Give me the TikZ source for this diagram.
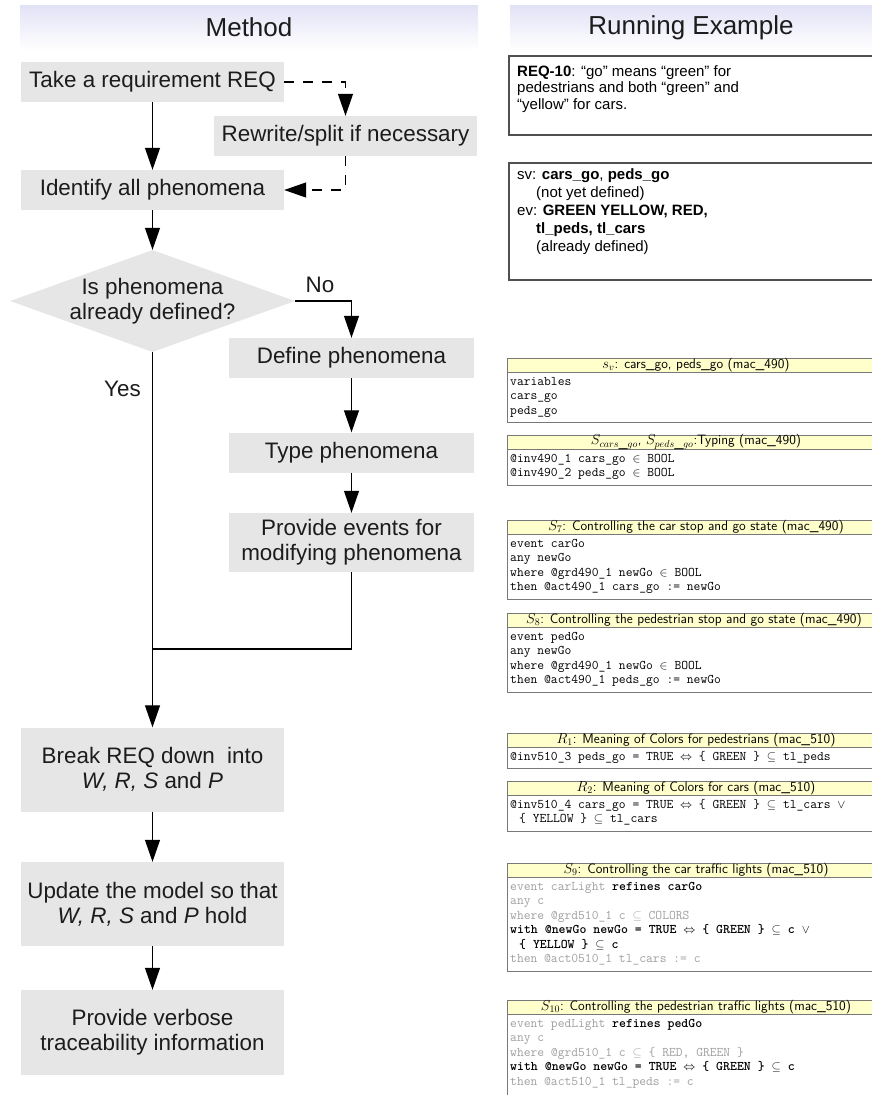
\documentclass[tikz,border=0pt]{standalone}
\usepackage{fontspec}
\setmainfont{Liberation Sans}
\usetikzlibrary{arrows.meta,shapes.geometric}
\definecolor{boxgray}{RGB}{230,230,230}
\definecolor{hdrtop}{RGB}{226,226,246}
\definecolor{txt}{RGB}{28,28,28}
\definecolor{ecyellow}{RGB}{255,255,204}
\definecolor{ecline}{RGB}{120,120,120}
\definecolor{ecgray}{RGB}{160,160,160}
\definecolor{rline}{RGB}{80,80,80}
\newcommand\ebody{\ttfamily\fontsize{13.2}{14.5}\selectfont}
\newcommand\ehdr{\sffamily\fontsize{13.6}{14}\selectfont}
\newcommand\gr[1]{\textcolor{ecgray}{#1}}
\begin{document}
\begin{tikzpicture}[x=1pt,y=-1pt,
  every node/.style={text=txt},
  procbox/.style={fill=boxgray, align=center, inner sep=0pt, font=\fontsize{22.4}{25}\selectfont},
  lbl/.style={inner sep=0pt, font=\fontsize{22.4}{25}\selectfont},
  hdrband/.style={top color=hdrtop, bottom color=white, inner sep=0pt, minimum height=45pt, font=\fontsize{26}{30}\selectfont},
  arr/.style={draw=black, line width=1.2pt, -{Triangle[length=22pt,width=15pt]}},
  dasharr/.style={draw=black, line width=1.2pt, dash pattern=on 10pt off 9pt, -{Triangle[length=22pt,width=15pt]}},
  plainline/.style={draw=black, line width=1.2pt},
  rbox/.style={draw=rline, line width=1.5pt},
  ehead/.style={fill=ecyellow, draw=ecline, line width=0.9pt},
  eline/.style={draw=ecline, line width=0.9pt},
  ehtext/.style={inner sep=0pt, font=\ehdr, text=black},
  ebtext/.style={anchor=north west, inner sep=0pt, align=left, font=\ebody, text=black},
  rtext/.style={anchor=north west, inner sep=0pt, align=left, text=black}
]
\useasboundingbox (0,0) rectangle (872,1095);
\fill[white] (0,0) rectangle (872,1095);

% ---------- headers ----------
\node[hdrband, minimum width=458pt] (mhead) at (249,27.5) {Method};
\node[hdrband, minimum width=362pt] (rhead) at (691,27.5) {Running Example};

% ---------- method flow ----------
\node[procbox, minimum width=263pt, minimum height=40pt] (take) at (152.5,82) {Take a requirement REQ};
\node[procbox, minimum width=263pt, minimum height=40pt] (rewrite) at (345.5,136) {Rewrite/split if necessary};
\node[procbox, minimum width=263pt, minimum height=40pt] (identify) at (152.5,190) {Identify all phenomena};
\node[diamond, fill=boxgray, minimum width=285pt, minimum height=102pt, inner sep=0pt] (dec) at (152.5,301) {};
\node[lbl, align=center] (dectext) at (dec.center) {Is phenomena\\already defined?};
\node[procbox, minimum width=245pt, minimum height=40pt] (define) at (351.5,358) {Define phenomena};
\node[procbox, minimum width=245pt, minimum height=40pt] (type) at (351.5,452.5) {Type phenomena};
\node[procbox, minimum width=245pt, minimum height=59pt] (events) at (351.5,542.5) {Provide events for\\modifying phenomena};
\node[procbox, minimum width=263pt, minimum height=84pt] (break) at (152.5,769.5) {Break REQ down\ \ into\\\textit{W, R, S} and \textit{P}};
\node[procbox, minimum width=263pt, minimum height=84pt] (update) at (152.5,904) {Update the model so that\\\textit{W, R, S} and \textit{P} hold};
\node[procbox, minimum width=263pt, minimum height=85pt] (verbose) at (152.5,1032.5) {Provide verbose\\traceability information};
\node[lbl] (no) at (320,285) {No};
\node[lbl] (yes) at (122.5,389) {Yes};
\coordinate (join) at (152.5,649);

\draw[arr] (take.south) -- (identify.north);
\draw[dasharr] (take.east) -| (rewrite.north);
\draw[dasharr] (rewrite.south) |- (identify.east);
\draw[arr] (identify.south) -- (dec.north);
\draw[arr] (dec.east) -| (define.north);
\draw[arr] (define.south) -- (type.north);
\draw[arr] (type.south) -- (events.north);
\draw[plainline] (events.south) |- (join);
\draw[arr] (dec.south) -- (break.north);
\draw[arr] (break.south) -- (update.north);
\draw[arr] (update.south) -- (verbose.north);

% ---------- running example ----------
\begin{scope}
\clip (0,0) rectangle (872,1095);
\draw[rbox] (509,56) rectangle (890,135);
\node[rtext, font=\fontsize{15}{16.5}\selectfont] (req) at (517,65)
  {\textbf{REQ-10}: “go” means “green” for\\pedestrians and both “green” and\\“yellow” for cars.};
\draw[rbox] (509,163) rectangle (890,280);
\node[rtext, font=\fontsize{15}{18}\selectfont] (svev) at (517,168)
  {sv: \textbf{cars\_go}, \textbf{peds\_go}\\
   \hspace*{19pt}(not yet defined)\\
   ev: \textbf{GREEN YELLOW, RED,}\\
   \hspace*{19pt}\textbf{tl\_peds, tl\_cars}\\
   \hspace*{19pt}(already defined)};

% s_v
\filldraw[ehead] (507,358) rectangle (877,372);
\draw[eline] (507,372) -- (507,422) -- (877,422);
\node[ehtext] (h1) at (696,365) {$s_v$: cars\_go, peds\_go (mac\_490)};
\node[ebtext] (b1) at (510,375) {\strut variables\\\strut cars\_go\\\strut peds\_go};

% typing
\filldraw[ehead] (507,435) rectangle (877,449);
\draw[eline] (507,449) -- (507,485) -- (877,485);
\node[ehtext] (h2) at (696,442) {$S_{cars\_go}$, $S_{peds\_go}$:Typing (mac\_490)};
\node[ebtext] (b2) at (510,452) {\strut @inv490\_1 cars\_go $\in$ BOOL\\\strut @inv490\_2 peds\_go $\in$ BOOL};

% S7
\filldraw[ehead] (507,520) rectangle (877,534);
\draw[eline] (507,534) -- (507,599) -- (877,599);
\node[ehtext] (h3) at (696,527) {$S_7$: Controlling the car stop and go state (mac\_490)};
\node[ebtext] (b3) at (510,537) {\strut event carGo\\\strut any newGo\\\strut where @grd490\_1 newGo $\in$ BOOL\\\strut then @act490\_1 cars\_go := newGo};

% S8
\filldraw[ehead] (507,613) rectangle (877,627);
\draw[eline] (507,627) -- (507,692) -- (877,692);
\node[ehtext] (h4) at (694,620) {$S_8$: Controlling the pedestrian stop and go state (mac\_490)};
\node[ebtext] (b4) at (510,630) {\strut event pedGo\\\strut any newGo\\\strut where @grd490\_1 newGo $\in$ BOOL\\\strut then @act490\_1 peds\_go := newGo};

% R1
\filldraw[ehead] (507,733) rectangle (877,747);
\draw[eline] (507,747) -- (507,768.5) -- (877,768.5);
\node[ehtext] (h5) at (696,740) {$R_1$: Meaning of Colors for pedestrians (mac\_510)};
\node[ebtext] (b5) at (510,750) {\strut @inv510\_3 peds\_go = TRUE $\Leftrightarrow$ \{ GREEN \} $\subseteq$ tl\_peds};

% R2
\filldraw[ehead] (507,781) rectangle (877,795);
\draw[eline] (507,795) -- (507,831) -- (877,831);
\node[ehtext] (h6) at (696,788) {$R_2$: Meaning of Colors for cars (mac\_510)};
\node[ebtext] (b6) at (510,798) {\strut @inv510\_4 cars\_go = TRUE $\Leftrightarrow$ \{ GREEN \} $\subseteq$ tl\_cars $\lor$\\\strut\hspace*{9pt}\{ YELLOW \} $\subseteq$ tl\_cars};

% S9
\filldraw[ehead] (507,863) rectangle (877,877);
\draw[eline] (507,877) -- (507,971) -- (877,971);
\node[ehtext] (h7) at (696,870) {$S_9$: Controlling the car traffic lights (mac\_510)};
\node[ebtext] (b7) at (510,880) {\strut\gr{event carLight} \textbf{refines carGo}\\
  \strut\gr{any c}\\
  \strut\gr{where @grd510\_1 c $\subseteq$ COLORS}\\
  \strut\textbf{with @newGo newGo = TRUE $\Leftrightarrow$ \{ GREEN \} $\subseteq$ c $\lor$}\\
  \strut\hspace*{9pt}\textbf{\{ YELLOW \} $\subseteq$ c}\\
  \strut\gr{then @act0510\_1 tl\_cars := c}};

% S10
\filldraw[ehead] (507,1000) rectangle (877,1014);
\draw[eline] (507,1014) -- (507,1100);
\node[ehtext] (h8) at (696,1007) {$S_{10}$: Controlling the pedestrian traffic lights (mac\_510)};
\node[ebtext] (b8) at (510,1017) {\strut\gr{event pedLight} \textbf{refines pedGo}\\
  \strut\gr{any c}\\
  \strut\gr{where @grd510\_1 c $\subseteq$ \{ RED, GREEN \}}\\
  \strut\textbf{with @newGo newGo = TRUE $\Leftrightarrow$ \{ GREEN \} $\subseteq$ c}\\
  \strut\gr{then @act510\_1 tl\_peds := c}};
\end{scope}
\end{tikzpicture}
\end{document}
